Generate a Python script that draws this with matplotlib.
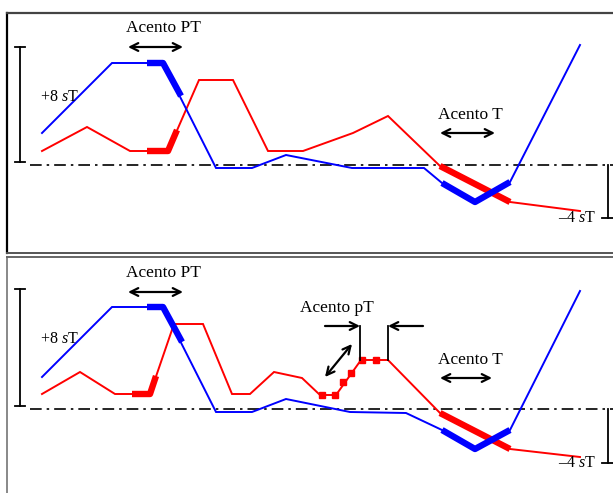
import matplotlib
matplotlib.use("Agg")
import matplotlib.pyplot as plt

# x: position along the utterance, y: height above the dash-dot reference line
# ---- top panel ----
blue_top_x = [42, 112, 163, 216, 252, 286, 352, 424, 442, 475, 510, 580]
blue_top_y = [32, 102, 102, -3, -3, 10, -3, -3, -18, -37, -17, 120]
blue_top_thick = [([147, 163, 181], [102, 102, 69]),
                  ([442, 475, 510], [-18, -37, -17])]
red_top_x = [42, 87, 130, 168, 199, 233, 268, 303, 353, 388, 440, 510, 580]
red_top_y = [14, 38, 14, 14, 85, 85, 14, 14, 32, 49, -1, -37, -46]
red_top_thick = [([147, 168, 177], [14, 14, 35]),
                 ([440, 510], [-1, -37])]

# ---- bottom panel ----
blue_bot_x = [42, 112, 163, 216, 252, 286, 350, 406, 442, 475, 510, 580]
blue_bot_y = [32, 102, 102, -3, -3, 10, -3, -4, -21, -40, -21, 118]
blue_bot_thick = [([147, 163, 182], [102, 102, 67]),
                  ([442, 475, 510], [-21, -40, -21])]
red_bot_x = [42, 80, 115, 150, 174, 203, 232, 250, 274, 302, 320, 336, 361, 388, 440, 510, 580]
red_bot_y = [15, 37, 15, 15, 85, 85, 15, 15, 37, 31, 14, 14, 49, 49, -4, -40, -48]
red_bot_thick = [([132, 150, 156], [15, 15, 33]),
                 ([440, 510], [-4, -40])]
red_bot_dots_x = [322, 335, 343, 351, 362, 376]
red_bot_dots_y = [14, 14, 27, 36, 49, 49]

plt.rcParams["font.family"] = ["Liberation Serif", "DejaVu Serif"]
plt.rcParams["mathtext.fontset"] = "custom"
plt.rcParams["mathtext.rm"] = "Liberation Serif"
plt.rcParams["mathtext.it"] = "Liberation Serif:italic"

BLUE = "#0000ff"
RED = "#ff0000"
FS = 12.5
THIN = 1.4
THICK = 4.6

W, H = 613, 493
fig = plt.figure(figsize=(W / 100, H / 100), dpi=100)

ax1 = fig.add_axes([7 / W, (H - 253) / H, 606 / W, 240 / H])
ax2 = fig.add_axes([7 / W, 0, 606 / W, 236 / H])


def arrow(ax, x0, y0, x1, y1, style="<->"):
    ax.annotate("", xy=(x1, y1), xytext=(x0, y0),
                arrowprops=dict(arrowstyle=style, color="k", lw=1.6,
                                mutation_scale=14, shrinkA=0, shrinkB=0))


def panel(ax, bx, by, bthick, rx, ry, rthick, top_ylim):
    ax.set_xlim(7, 613)
    ax.set_ylim(*top_ylim)
    ax.set_xticks([])
    ax.set_yticks([])
    ax.axhline(0, xmin=(30 - 7) / 606, xmax=1, color="k", lw=1.2,
               ls=(0, (7, 3, 1.5, 3)))
    ax.plot(rx, ry, color=RED, lw=THIN, solid_joinstyle="miter")
    for xs, ys in rthick:
        ax.plot(xs, ys, color=RED, lw=THICK, solid_capstyle="butt")
    ax.plot(bx, by, color=BLUE, lw=THIN, solid_joinstyle="miter")
    for xs, ys in bthick:
        ax.plot(xs, ys, color=BLUE, lw=THICK, solid_capstyle="butt")


panel(ax1, blue_top_x, blue_top_y, blue_top_thick,
      red_top_x, red_top_y, red_top_thick, (-88, 152))
panel(ax2, blue_bot_x, blue_bot_y, blue_bot_thick,
      red_bot_x, red_bot_y, red_bot_thick, (-84, 152))
ax2.plot(red_bot_dots_x, red_bot_dots_y, ls="none", marker="s", ms=4,
         color=RED)

# frames
ax1.spines["right"].set_visible(False)
ax1.spines["left"].set_color("k")
ax1.spines["left"].set_linewidth(1.6)
ax1.spines["top"].set_color("#444444")
ax1.spines["top"].set_linewidth(1.6)
ax1.spines["bottom"].set_color("#555555")
ax1.spines["bottom"].set_linewidth(1.4)
for sp in ("right", "bottom"):
    ax2.spines[sp].set_visible(False)
ax2.spines["top"].set_color("#666666")
ax2.spines["top"].set_linewidth(1.4)
ax2.spines["left"].set_color("#888888")
ax2.spines["left"].set_linewidth(1.4)

# range brackets and labels
for ax, top, low in ((ax1, 118, -53), (ax2, 120, -54)):
    ax.plot([20, 20], [top, 3], color="k", lw=1.3)
    ax.plot([15, 25], [top, top], color="k", lw=1.3)
    ax.plot([15, 25], [3, 3], color="k", lw=1.3)
    ax.plot([608, 608], [0, low], color="k", lw=1.3)
    ax.plot([602, 613], [low, low], color="k", lw=1.3, clip_on=False)
    ax.text(40, top - 50, "+8 $s$T", fontsize=FS - 1, va="center", ha="left")
    ax.text(558, low, "\u20134 $s$T", fontsize=FS - 1, va="center", ha="left")

# accent annotations
ax1.text(163, 137, "Acento PT", fontsize=FS, ha="center", va="center")
arrow(ax1, 128, 118, 183, 118)
ax1.text(470, 50, "Acento T", fontsize=FS, ha="center", va="center")
arrow(ax1, 440, 32, 495, 32)

ax2.text(163, 136, "Acento PT", fontsize=FS, ha="center", va="center")
arrow(ax2, 128, 117, 183, 117)
ax2.text(470, 49, "Acento T", fontsize=FS, ha="center", va="center")
arrow(ax2, 440, 31, 492, 31)

ax2.text(337, 101, "Acento pT", fontsize=FS, ha="center", va="center")
arrow(ax2, 325, 32, 352, 65)
arrow(ax2, 325, 83, 360, 83, style="->")
arrow(ax2, 423, 83, 388, 83, style="->")
ax2.plot([360, 360], [83, 49], color="k", lw=1.3)
ax2.plot([388, 388], [83, 49], color="k", lw=1.3)

fig.savefig("out.png", dpi=100)
